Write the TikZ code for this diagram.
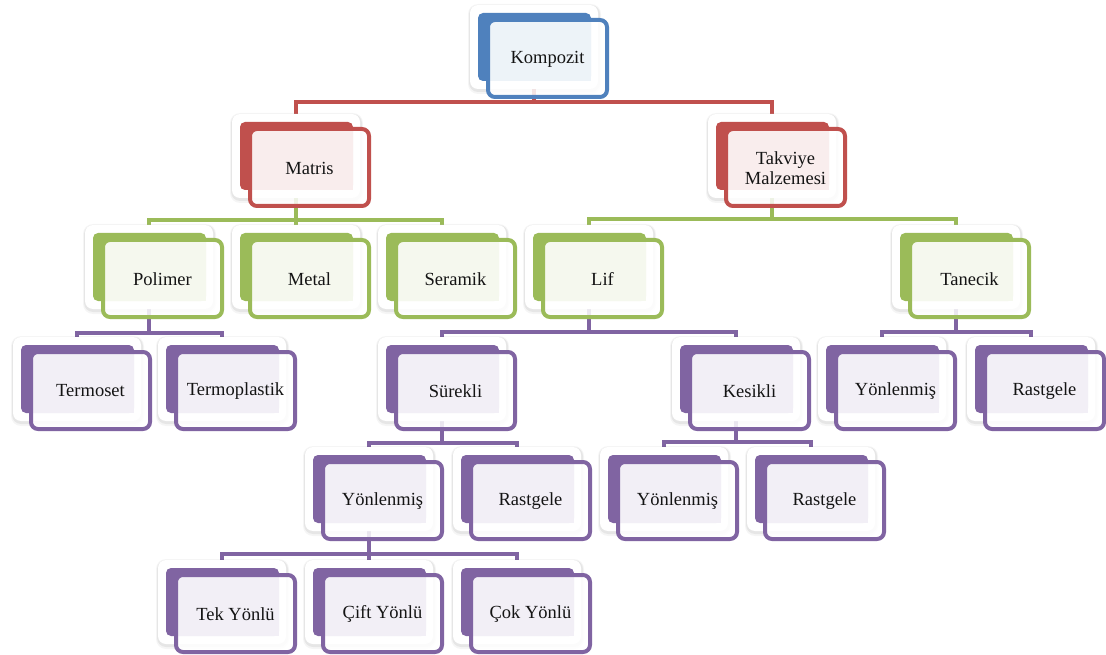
\documentclass[tikz,border=0pt]{standalone}
\usepackage{fontspec}
\setmainfont{Liberation Serif}
\pgfdeclarelayer{background}
\pgfsetlayers{background,main}
\definecolor{cblue}{HTML}{4F81BD}
\definecolor{cred}{HTML}{C0504D}
\definecolor{cgreen}{HTML}{9BBB59}
\definecolor{cpurple}{HTML}{8064A2}
\tikzset{
  wbox/.style={draw=none, fill=white, rounded corners=8pt, minimum width=128pt,
    minimum height=84pt, inner sep=0pt},
  shade1/.style={fill=black, opacity=0.04, rounded corners=10pt},
  shade2/.style={fill=black, opacity=0.06, rounded corners=9pt},
  conn/.style={line width=4pt, draw=#1},
  lbl/.style={font=\fontsize{18.5}{19.5}\selectfont, align=center, inner sep=0pt, text=black!92},
}
\newcommand\tnode[5]{%
  \fill[shade1] ({#2-2},{#3-1}) rectangle ({#2+131},{#3+89});
  \fill[shade2] ({#2-1},{#3}) rectangle ({#2+130},{#3+87});
  \node[wbox] (#1) at ({#2+64},{#3+42}) {};
  \fill[#4, rounded corners=5pt] ({#2+8},{#3+8}) rectangle ({#2+121},{#3+76});
  \fill[white, fill opacity=0.85, rounded corners=7pt] ({#2+18},{#3+15}) rectangle ({#2+137},{#3+92});
  \fill[#4!10!white] ({#2+20},{#3+17}) rectangle ({#2+121},{#3+76});
  \draw[#4, line width=4pt, rounded corners=7pt] ({#2+18},{#3+15}) rectangle ({#2+137},{#3+92});
  \node[lbl] (#1t) at ({#2+77.5},{#3+54}) {#5};
}
\newcommand\conline[4]{% parent, child, bus y, color
  \begin{pgfonlayer}{background}
  \draw[conn=#4] (#2.north) -- (#2.north |- 0,#3) -| (#1.center);
  \end{pgfonlayer}
}
\begin{document}
\begin{tikzpicture}[x=1pt,y=-1pt]
\begin{pgfonlayer}{background}
\fill[white] (0,0) rectangle (1106,655);
\end{pgfonlayer}
\useasboundingbox (0,0) rectangle (1106,655);
\tnode{kom}{470}{5}{cblue}{Kompozit}
\tnode{mat}{232}{114}{cred}{Matris}
\tnode{tak}{708}{114}{cred}{Takviye\\Malzemesi}
\tnode{pol}{85}{225}{cgreen}{Polimer}
\tnode{met}{232}{225}{cgreen}{Metal}
\tnode{ser}{378}{225}{cgreen}{Seramik}
\tnode{lif}{525}{225}{cgreen}{Lif}
\tnode{tan}{892}{225}{cgreen}{Tanecik}
\tnode{ter}{13}{337}{cpurple}{Termoset}
\tnode{tpl}{158}{337}{cpurple}{Termoplastik}
\tnode{sur}{378}{337}{cpurple}{Sürekli}
\tnode{kes}{672}{337}{cpurple}{Kesikli}
\tnode{yona}{818}{337}{cpurple}{Yönlenmiş}
\tnode{rasa}{967}{337}{cpurple}{Rastgele}
\tnode{yonb}{305}{447}{cpurple}{Yönlenmiş}
\tnode{rasb}{453}{447}{cpurple}{Rastgele}
\tnode{yonc}{600}{447}{cpurple}{Yönlenmiş}
\tnode{rasc}{747}{447}{cpurple}{Rastgele}
\tnode{tek}{158}{560}{cpurple}{Tek Yönlü}
\tnode{cif}{305}{560}{cpurple}{Çift Yönlü}
\tnode{cok}{453}{560}{cpurple}{Çok Yönlü}
\conline{kom}{mat}{102}{cred}
\conline{kom}{tak}{102}{cred}
\conline{mat}{pol}{220}{cgreen}
\conline{mat}{met}{220}{cgreen}
\conline{mat}{ser}{220}{cgreen}
\conline{tak}{lif}{219}{cgreen}
\conline{tak}{tan}{219}{cgreen}
\conline{pol}{ter}{333}{cpurple}
\conline{pol}{tpl}{333}{cpurple}
\conline{lif}{sur}{332}{cpurple}
\conline{lif}{kes}{332}{cpurple}
\conline{tan}{yona}{332}{cpurple}
\conline{tan}{rasa}{332}{cpurple}
\conline{sur}{yonb}{443}{cpurple}
\conline{sur}{rasb}{443}{cpurple}
\conline{kes}{yonc}{442}{cpurple}
\conline{kes}{rasc}{442}{cpurple}
\conline{yonb}{tek}{554}{cpurple}
\conline{yonb}{cif}{554}{cpurple}
\conline{yonb}{cok}{554}{cpurple}
\end{tikzpicture}
\end{document}
